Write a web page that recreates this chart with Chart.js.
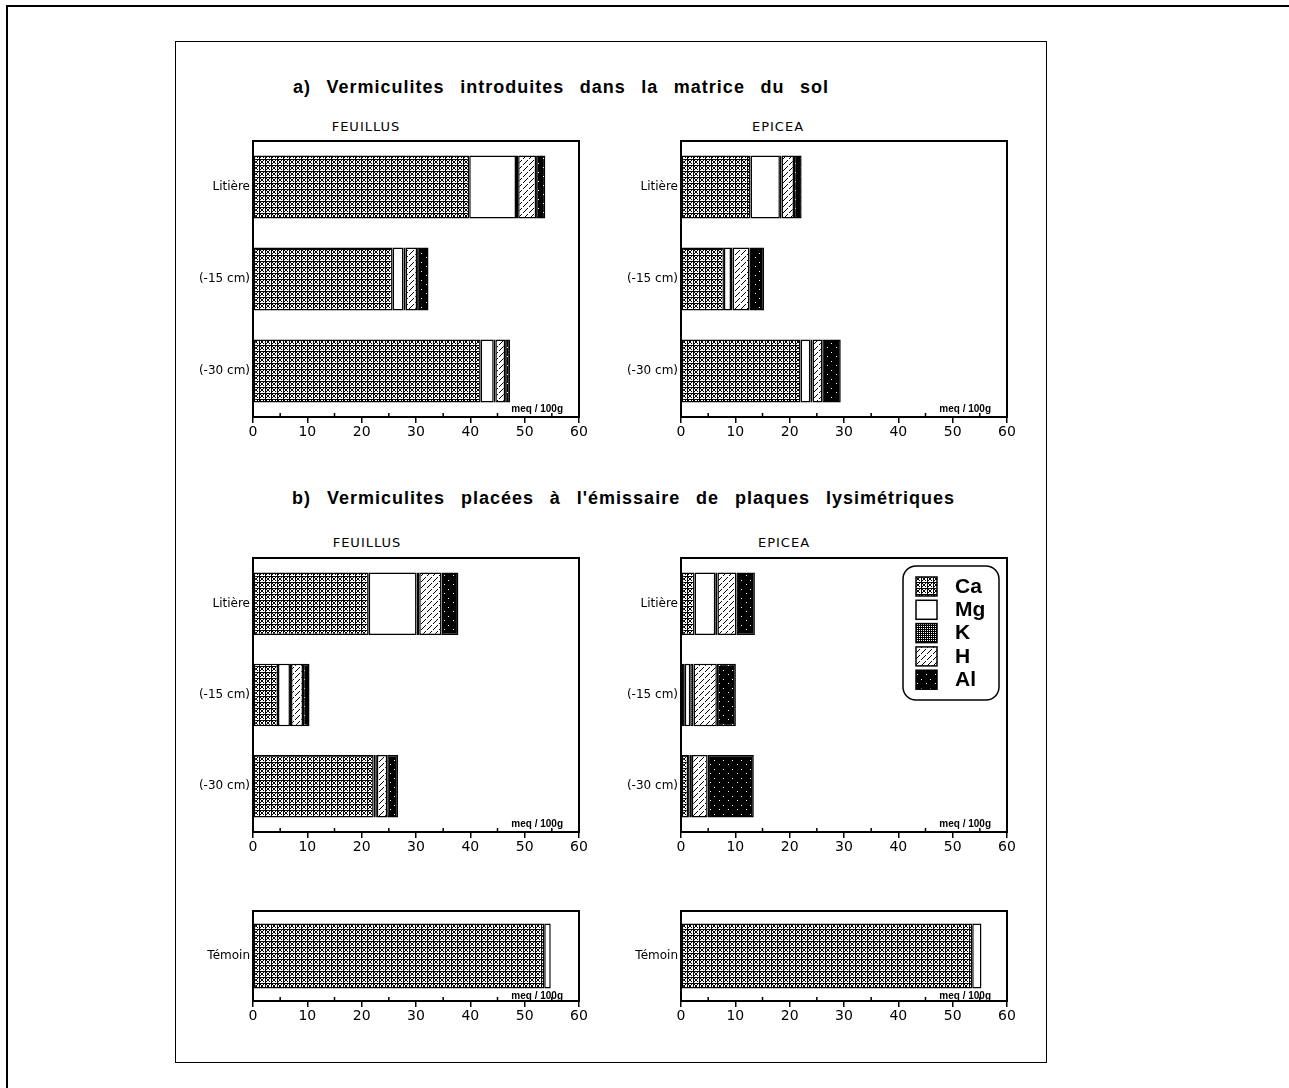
<!DOCTYPE html>
<html><head><meta charset="utf-8">
<script src="https://cdn.jsdelivr.net/npm/chart.js@4.4.0/dist/chart.umd.min.js"></script>
<style>
html,body{margin:0;padding:0;background:#fff;}
body{width:1289px;height:1088px;position:relative;overflow:hidden;font-family:"Liberation Sans",Arial,sans-serif;color:#000;}
.line{position:absolute;background:#000;}
.frame{position:absolute;border:1.5px solid #000;box-sizing:border-box;}
.sec{position:absolute;font-weight:bold;font-size:18px;line-height:20px;letter-spacing:1px;text-align:justify;text-align-last:justify;}
.pt{position:absolute;width:200px;text-align:center;font-family:"DejaVu Sans",sans-serif;font-size:13px;line-height:16px;letter-spacing:1px;}
canvas{position:absolute;}
</style></head>
<body>
<div class="line" style="left:6px;top:5px;width:1283px;height:2px;"></div>
<div class="line" style="left:6px;top:5px;width:2px;height:1083px;"></div>
<div class="frame" style="left:175px;top:41px;width:872px;height:1022px;"></div>

<div class="sec" style="left:293px;top:77px;width:536px;">a) Vermiculites introduites dans la matrice du sol</div>
<div class="sec" style="left:292px;top:488px;width:663px;">b) Vermiculites placées à l'émissaire de plaques lysimétriques</div>

<div class="pt" style="left:266px;top:119px;">FEUILLUS</div>
<div class="pt" style="left:678px;top:119px;">EPICEA</div>
<div class="pt" style="left:267px;top:535px;">FEUILLUS</div>
<div class="pt" style="left:684px;top:535px;">EPICEA</div>

<canvas id="cA1"></canvas>
<canvas id="cA2"></canvas>
<canvas id="cB1"></canvas>
<canvas id="cB2"></canvas>
<canvas id="cC1"></canvas>
<canvas id="cC2"></canvas>

<script>
// ---------- DATA ----------
const seriesNames = ['Ca', 'Mg', 'K', 'H', 'Al'];
const horizons = ['Litière', '(-15 cm)', '(-30 cm)'];
const temoinLabels = ['Témoin'];
const xTickValues = [0, 10, 20, 30, 40, 50, 60];
const minorTickValues = [5, 15, 25, 35, 45, 55];
const unitLabel = 'meq / 100g';

// a) FEUILLUS
const aFeuCa = [39.8, 25.7, 41.9];
const aFeuMg = [8.6, 2.0, 2.4];
const aFeuK  = [0.4, 0.4, 0.3];
const aFeuH  = [3.3, 2.1, 1.8];
const aFeuAl = [1.7, 2.1, 0.9];
// a) EPICEA
const aEpiCa = [12.8, 7.9, 22.0];
const aEpiMg = [5.4, 1.3, 1.8];
const aEpiK  = [0.3, 0.3, 0.4];
const aEpiH  = [2.3, 3.1, 1.8];
const aEpiAl = [1.4, 2.7, 3.4];
// b) FEUILLUS
const bFeuCa = [21.3, 4.6, 22.2];
const bFeuMg = [8.8, 2.2, 0.3];
const bFeuK  = [0.5, 0.2, 0.3];
const bFeuH  = [4.1, 2.2, 1.9];
const bFeuAl = [3.1, 1.2, 2.0];
// b) EPICEA
const bEpiCa = [2.5, 0.7, 1.3];
const bEpiMg = [3.8, 1.0, 0.3];
const bEpiK  = [0.4, 0.6, 0.4];
const bEpiH  = [3.5, 4.3, 2.9];
const bEpiAl = [3.4, 3.5, 8.5];
// Témoin
const tFeuCa = [53.6];
const tFeuMg = [1.2];
const tEpiCa = [53.6];
const tEpiMg = [1.7];

// ---------- PATTERNS ----------
function tile(w, h, bg, fg, pts) {
  const c = document.createElement('canvas');
  c.width = w; c.height = h;
  const g = c.getContext('2d');
  g.fillStyle = bg; g.fillRect(0, 0, w, h);
  g.fillStyle = fg;
  pts.forEach(p => g.fillRect(p[0], p[1], 1, 1));
  return g.createPattern(c, 'repeat');
}
const patCa = tile(6, 6, '#fff', '#000', [
  [1,1],[4,1],[2,2],[3,2],[2,3],[3,3],[1,4],[4,4],
  [0,0],[0,1],[0,2],[0,3],[0,4],[0,5],[1,0],[2,0],[3,0],[4,0],[5,0]
]);
const patMg = '#ffffff';
const patK = tile(2, 2, '#000', '#fff', [[0,0]]);
const patH = tile(6, 6, '#fff', '#000', [[0,5],[1,4],[2,3],[3,2],[4,1]]);
const patAl = tile(9, 9, '#000', '#fff', [[2,2],[6,7]]);
const patterns = [patCa, patMg, patK, patH, patAl];

// ---------- PLUGINS ----------
const framePlugin = {
  id: 'frameBox',
  afterDraw(chart) {
    const a = chart.chartArea, c = chart.ctx, xs = chart.scales.x;
    const o = chart.options.plugins.frameBox || {};
    c.save();
    c.strokeStyle = '#000';
    c.lineWidth = 2;
    c.strokeRect(a.left, a.top, a.right - a.left, a.bottom - a.top);
    c.lineWidth = 1.5;
    minorTickValues.forEach(v => {
      const px = xs.getPixelForValue(v);
      c.beginPath(); c.moveTo(px, a.bottom); c.lineTo(px, a.bottom - 4); c.stroke();
    });
    c.fillStyle = '#000';
    c.font = 'bold 10px "Liberation Sans", Arial, sans-serif';
    c.textAlign = 'right';
    c.textBaseline = 'alphabetic';
    c.fillText(unitLabel, a.right - 16, a.bottom - (o.unitOffset || 5));
    c.restore();
  }
};

const legendPlugin = {
  id: 'boxLegend',
  afterDraw(chart) {
    const a = chart.chartArea, c = chart.ctx;
    const x0 = a.right - 104, y0 = a.top + 8, w = 96, h = 134, r = 13;
    c.save();
    c.beginPath();
    c.moveTo(x0 + r, y0);
    c.arcTo(x0 + w, y0, x0 + w, y0 + h, r);
    c.arcTo(x0 + w, y0 + h, x0, y0 + h, r);
    c.arcTo(x0, y0 + h, x0, y0, r);
    c.arcTo(x0, y0, x0 + w, y0, r);
    c.closePath();
    c.fillStyle = '#fff'; c.fill();
    c.strokeStyle = '#000'; c.lineWidth = 1.5; c.stroke();
    chart.data.datasets.forEach((ds, i) => {
      const sy = y0 + 11 + i * 23.3;
      c.fillStyle = ds.backgroundColor;
      c.fillRect(x0 + 13, sy, 21, 19);
      c.lineWidth = 1.5;
      c.strokeRect(x0 + 13, sy, 21, 19);
      c.fillStyle = '#000';
      c.font = 'bold 21px "Liberation Sans", Arial, sans-serif';
      c.textAlign = 'left';
      c.textBaseline = 'middle';
      c.fillText(ds.label, x0 + 52, sy + 10);
    });
    c.restore();
  }
};

// ---------- CHARTS ----------
const PADL = 90, PADT = 12, PADR = 20, PADB = 40;
function makeChart(id, L, T, W, H, labels, arrays, barPct, withLegend, unitOffset) {
  const cv = document.getElementById(id);
  const cw = W + PADL + PADR, ch = H + PADT + PADB;
  cv.width = cw; cv.height = ch;
  cv.style.left = (L - PADL) + 'px';
  cv.style.top = (T - PADT) + 'px';
  cv.style.width = cw + 'px';
  cv.style.height = ch + 'px';
  const datasets = arrays.map((arr, i) => ({
    label: seriesNames[i],
    data: arr,
    backgroundColor: patterns[i],
    borderColor: '#000',
    borderWidth: 1.5,
    borderSkipped: false,
    barPercentage: barPct,
    categoryPercentage: 1.0
  }));
  new Chart(cv.getContext('2d'), {
    type: 'bar',
    data: { labels: labels, datasets: datasets },
    options: {
      indexAxis: 'y',
      responsive: false,
      maintainAspectRatio: false,
      devicePixelRatio: 1,
      animation: false,
      layout: { padding: { left: 0, top: PADT, right: PADR, bottom: 0 } },
      plugins: {
        legend: { display: false },
        tooltip: { enabled: false },
        frameBox: { unitOffset: unitOffset }
      },
      scales: {
        x: {
          type: 'linear', stacked: true, min: 0, max: 60,
          afterBuildTicks: s => { s.ticks = xTickValues.map(v => ({ value: v })); },
          afterFit: s => { s.height = PADB; },
          ticks: { color: '#000', font: { family: '"DejaVu Sans", sans-serif', size: 14 }, padding: 1, maxRotation: 0 },
          grid: { display: true, drawOnChartArea: false, drawTicks: true, tickLength: 6, color: '#000', lineWidth: 1.5 },
          border: { display: true, color: '#000', width: 2 }
        },
        y: {
          type: 'category', stacked: true,
          afterFit: s => { s.width = PADL; },
          ticks: { color: '#000', font: { family: '"DejaVu Sans", sans-serif', size: 12 }, padding: 3 },
          grid: { display: false, drawTicks: false },
          border: { display: true, color: '#000', width: 2 }
        }
      }
    },
    plugins: withLegend ? [framePlugin, legendPlugin] : [framePlugin]
  });
}

makeChart('cA1', 253, 141, 326, 276, horizons, [aFeuCa, aFeuMg, aFeuK, aFeuH, aFeuAl], 0.685, false, 5);
makeChart('cA2', 681, 141, 326, 276, horizons, [aEpiCa, aEpiMg, aEpiK, aEpiH, aEpiAl], 0.685, false, 5);
makeChart('cB1', 253, 558, 326, 274, horizons, [bFeuCa, bFeuMg, bFeuK, bFeuH, bFeuAl], 0.685, false, 5);
makeChart('cB2', 681, 558, 326, 274, horizons, [bEpiCa, bEpiMg, bEpiK, bEpiH, bEpiAl], 0.685, true, 5);
makeChart('cC1', 253, 911, 326, 90, temoinLabels, [tFeuCa, tFeuMg], 0.72, false, 2);
makeChart('cC2', 681, 911, 326, 90, temoinLabels, [tEpiCa, tEpiMg], 0.72, false, 2);
</script>
</body></html>
